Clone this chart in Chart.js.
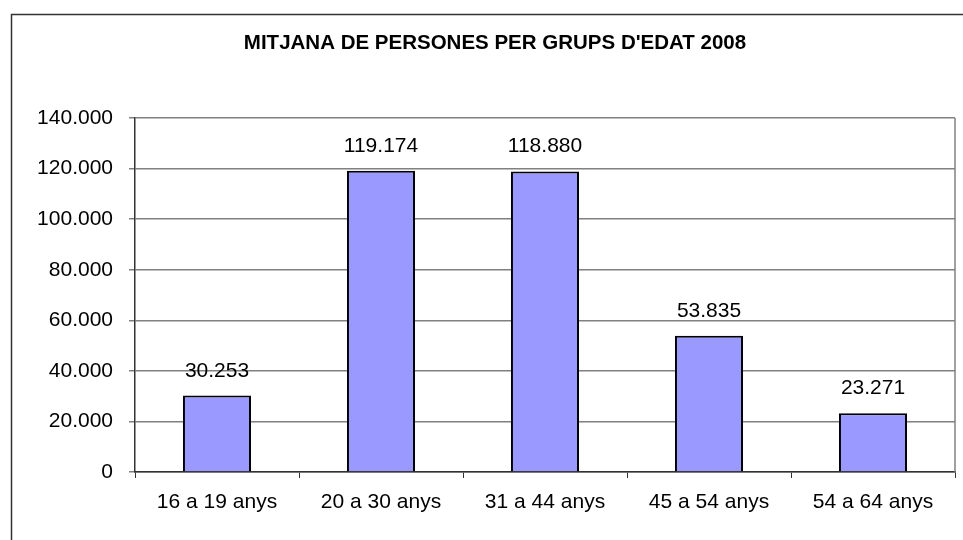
<!DOCTYPE html>
<html>
<head>
<meta charset="utf-8">
<script src="https://cdn.jsdelivr.net/npm/chart.js@4"></script>
<style>
  html, body { margin: 0; padding: 0; background: #fff; }
  #wrap { width: 963px; height: 540px; }
</style>
</head>
<body>
<div id="wrap"><canvas id="bar-chart" width="963" height="540"></canvas></div>
<script>
// data
const categories = ["16 a 19 anys", "20 a 30 anys", "31 a 44 anys", "45 a 54 anys", "54 a 64 anys"];
const persones = [30253, 119174, 118880, 53835, 23271];
const yTicks = [0, 20000, 40000, 60000, 80000, 100000, 120000, 140000];
const chartTitle = "MITJANA DE PERSONES PER GRUPS D'EDAT 2008";

const FONT = "'Liberation Sans', Arial, sans-serif";

// thousands with a dot, as in the original
function fmt(v) {
  return String(Math.round(v)).replace(/\B(?=(\d{3})+(?!\d))/g, ".");
}

// outer frame, title, and right edge of plot area
const framePlugin = {
  id: 'frame',
  beforeDraw(chart) {
    const ctx = chart.ctx;
    ctx.save();
    ctx.strokeStyle = '#333';
    ctx.lineWidth = 1.5;
    ctx.strokeRect(11.5, 14.5, 2000, 2000);
    ctx.font = 'bold 20.5px ' + FONT;
    ctx.fillStyle = '#000';
    ctx.textAlign = 'center';
    ctx.textBaseline = 'alphabetic';
    ctx.fillText(chartTitle, 495, 49);
    ctx.restore();
  },
  afterDraw(chart) {
    const a = chart.chartArea;
    const ctx = chart.ctx;
    ctx.save();
    ctx.strokeStyle = '#808080';
    ctx.lineWidth = 1.5;
    ctx.beginPath();
    ctx.moveTo(a.right, a.top);
    ctx.lineTo(a.right, a.bottom);
    ctx.stroke();
    ctx.restore();
  }
};

// values above the bars
const valueLabels = {
  id: 'valueLabels',
  afterDatasetsDraw(chart) {
    const ctx = chart.ctx;
    const meta = chart.getDatasetMeta(0);
    ctx.save();
    ctx.font = '21px ' + FONT;
    ctx.fillStyle = '#000';
    ctx.textAlign = 'center';
    ctx.textBaseline = 'alphabetic';
    meta.data.forEach((bar, i) => {
      ctx.fillText(fmt(persones[i]), bar.x, bar.y - 19);
    });
    ctx.restore();
  }
};

new Chart(document.getElementById("bar-chart"), {
  type: 'bar',
  data: {
    labels: categories,
    datasets: [{
      label: "Persones",
      data: persones,
      backgroundColor: '#9999FF',
      borderColor: '#000',
      borderWidth: 2,
      barPercentage: 0.415,
      categoryPercentage: 1.0
    }]
  },
  options: {
    responsive: false,
    animation: false,
    layout: { padding: { left: 0, right: 8, top: 118, bottom: 0 } },
    plugins: {
      legend: { display: false },
      tooltip: { enabled: false },
      title: { display: false }
    },
    scales: {
      x: {
        offset: true,
        grid: {
          offset: true,
          drawOnChartArea: false,
          drawTicks: true,
          tickLength: 6,
          color: '#333'
        },
        border: { color: '#333', width: 1.5 },
        ticks: {
          color: '#000',
          font: { family: FONT, size: 21 },
          padding: 12,
          maxRotation: 0
        },
        afterFit(scale) { scale.height = 68; }
      },
      y: {
        min: 0,
        max: 140000,
        afterBuildTicks(scale) { scale.ticks = yTicks.map(v => ({ value: v })); },
        grid: {
          color: '#808080',
          lineWidth: 1.5,
          drawTicks: true,
          tickLength: 6
        },
        border: { color: '#333', width: 1.5 },
        ticks: {
          color: '#000',
          font: { family: FONT, size: 21 },
          padding: 16,
          callback: v => fmt(v)
        },
        afterFit(scale) { scale.width = 135; }
      }
    }
  },
  plugins: [framePlugin, valueLabels]
});
</script>
</body>
</html>
